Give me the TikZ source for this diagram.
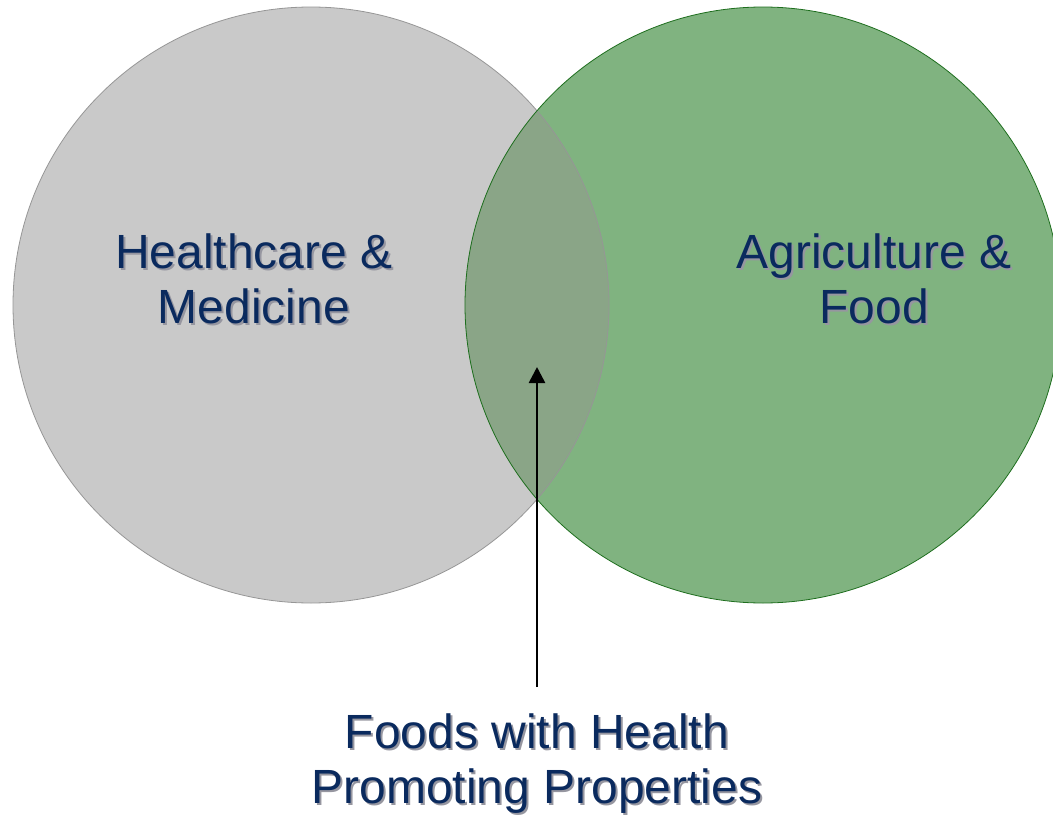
\documentclass[tikz,border=0pt]{standalone}
\usepackage{fontspec}
\setmainfont{Liberation Sans}
\usetikzlibrary{arrows.meta}
\definecolor{grayfill}{RGB}{201,201,201}
\definecolor{grayedge}{RGB}{150,150,150}
\definecolor{greenfill}{RGB}{128,179,128}
\definecolor{greenedge}{RGB}{30,110,30}
\definecolor{overlapfill}{RGB}{138,165,135}
\definecolor{navy}{RGB}{10,42,94}
\definecolor{shadowc}{RGB}{150,150,160}
\tikzset{
  venn/.style={circle, minimum size=596pt, inner sep=0pt, line width=0.8pt},
  lbl/.style={font=\fontsize{48}{55}\selectfont, text=navy, align=center, anchor=base, inner sep=0pt},
  lblshadow/.style={lbl, text=shadowc},
  pointer/.style={line width=2.6pt, -{Triangle[width=16pt,length=16pt]}},
}
\begin{document}
\begin{tikzpicture}[x=1pt,y=-1pt]
\useasboundingbox (0,0) rectangle (1053,819);
\node[venn, fill=grayfill] (L) at (311,305) {};
\node[venn, fill=greenfill] (R) at (763,305) {};
\begin{scope}
  \clip (L.center) circle[radius=298pt];
  \fill[overlapfill] (R.center) circle[radius=298pt];
\end{scope}
\draw[grayedge, line width=0.8pt] (L.center) circle[radius=298pt];
\draw[greenedge, line width=0.8pt] (R.center) circle[radius=298pt];
% labels with shadow (anchor base = last line baseline)
\node[lblshadow] (hcS) at (256,325) {Healthcare \&\\Medicine};
\node[lbl] (hc) at (254,323) {Healthcare \&\\Medicine};
\node[lblshadow] (agS) at (876,325) {Agriculture \&\\Food};
\node[lbl] (ag) at (874,323) {Agriculture \&\\Food};
\node[lblshadow] (fdS) at (539,805) {Foods with Health\\Promoting Properties};
\node[lbl] (fd) at (537,803) {Foods with Health\\Promoting Properties};
\coordinate (tip) at (537,367);
\draw[pointer] (tip |- fd.north) ++(0,-26) -- (tip);
\end{tikzpicture}
\end{document}
